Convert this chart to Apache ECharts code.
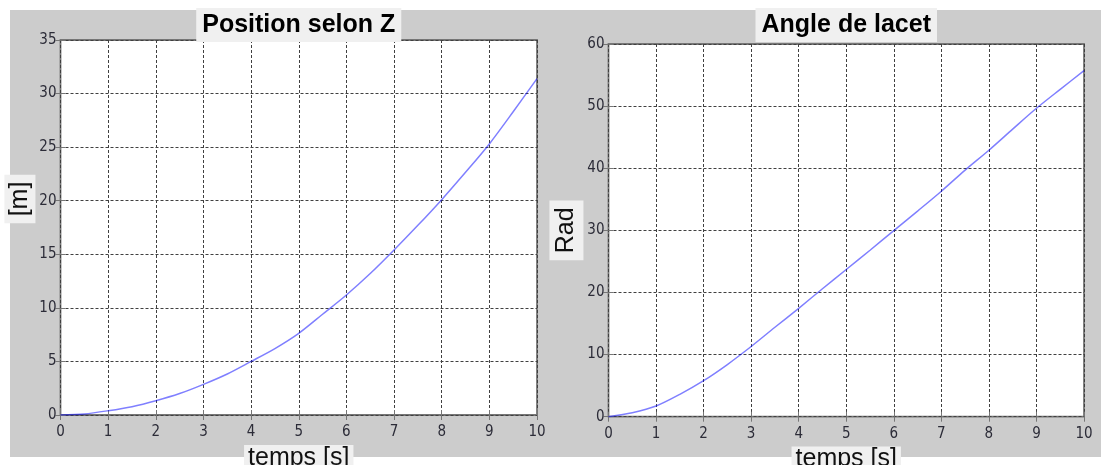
<!DOCTYPE html>
<html>
<head>
<meta charset="utf-8">
<script src="https://cdn.jsdelivr.net/npm/echarts@6/dist/echarts.min.js"></script>
<style>
  html, body { margin: 0; padding: 0; background: #ffffff; }
  #bg { position: absolute; left: 10px; top: 10px; width: 1091px; height: 447px; background: #cccccc; }
  #chart { position: absolute; left: 0; top: 0; width: 1101px; height: 465px; }
</style>
</head>
<body>
<div id="bg"></div>
<div id="chart"></div>
<script>
// ---- data ----
const timeTicks = [0, 0.5, 1, 1.5, 2, 2.5, 3, 3.5, 4, 4.5, 5, 5.5, 6, 6.5, 7, 7.5, 8, 8.5, 9, 9.5, 10];
const positionZ = [0, 0.1, 0.4, 0.78, 1.33, 2.0, 2.86, 3.83, 5.0, 6.2, 7.62, 9.4, 11.2, 13.2, 15.4, 17.7, 20.1, 22.65, 25.3, 28.3, 31.4];
const yawAngle = [0, 0.65, 1.72, 3.6, 5.8, 8.4, 11.3, 14.4, 17.45, 20.6, 23.7, 26.8, 29.95, 33.1, 36.3, 39.7, 42.9, 46.3, 49.65, 52.7, 55.7];
const titles = ['Position selon Z', 'Angle de lacet'];
const xName = 'temps [s]';
const yNames = ['[m]', 'Rad'];

// ---- styling ----
const frameColor = '#767676';
const labelStyle = { color: '#2c2c38', fontSize: 15, fontFamily: '"Liberation Sans Narrow", "DejaVu Sans Condensed", "Liberation Sans", sans-serif' };
const nameStyle = { color: '#111', fontSize: 25, fontFamily: '"Liberation Sans", Arial, sans-serif', backgroundColor: '#f0f0f0' };
const gridLine = { show: true, lineStyle: { color: '#404040', width: 1, type: [3, 2] } };
const tickIn = { show: true, inside: true, length: 5, lineStyle: { color: frameColor, width: 1 } };

const grids = [
  { left: 60.5, top: 40, width: 476.5, height: 375 },
  { left: 608.5, top: 44, width: 475.5, height: 372.7 }
];
const yMax = [35, 60], yInt = [5, 10];

const option = {
  animation: false,
  title: titles.map((t, i) => ({
    text: t,
    left: grids[i].left + grids[i].width / 2 - 6,
    top: 8,
    textAlign: 'center',
    backgroundColor: '#f0f0f0',
    padding: [2, 6],
    textStyle: { fontSize: 25, fontWeight: 'bold', color: '#000', lineHeight: 30, fontFamily: '"Liberation Sans", Arial, sans-serif' }
  })),
  grid: grids.map(g => Object.assign({ show: true, backgroundColor: '#ffffff', borderColor: frameColor, borderWidth: 1.8, outerBoundsMode: 'none', containLabel: false }, g)),
  xAxis: [],
  yAxis: [],
  series: []
};

[0, 1].forEach(i => {
  option.xAxis.push({
    gridIndex: i, type: 'value', min: 0, max: 10, interval: 1, position: 'bottom',
    axisLine: { show: false }, axisTick: tickIn,
    axisLabel: Object.assign({ margin: 10 }, labelStyle),
    splitLine: gridLine,
    name: xName, nameLocation: 'middle', nameGap: 25,
    nameTextStyle: Object.assign({}, nameStyle, { lineHeight: 26, padding: [0, 4] })
  });
  option.xAxis.push({
    gridIndex: i, type: 'value', min: 0, max: 10, interval: 1, position: 'top',
    axisLine: { show: false }, axisTick: tickIn, axisLabel: { show: false }, splitLine: { show: false }
  });
  const yNameCfg = i === 0
    ? { name: '{b|' + yNames[0] + '}', nameGap: 19,
        nameTextStyle: { padding: [0, 0, 0, 57], rich: { b: Object.assign({}, nameStyle, { lineHeight: 28, padding: [3, 7] }) } } }
    : { name: yNames[1], nameGap: 22,
        nameTextStyle: Object.assign({}, nameStyle, { lineHeight: 28, padding: [3, 7] }) };
  option.yAxis.push(Object.assign({
    gridIndex: i, type: 'value', min: 0, max: yMax[i], interval: yInt[i], position: 'left',
    axisLine: { show: false }, axisTick: tickIn,
    axisLabel: Object.assign({ margin: 4 }, labelStyle),
    splitLine: gridLine,
    nameLocation: 'middle'
  }, yNameCfg));
  option.yAxis.push({
    gridIndex: i, type: 'value', min: 0, max: yMax[i], interval: yInt[i], position: 'right',
    axisLine: { show: false }, axisTick: tickIn, axisLabel: { show: false }, splitLine: { show: false }
  });
});

const seriesVals = [positionZ, yawAngle];
[0, 1].forEach(i => {
  option.series.push({
    type: 'line',
    xAxisIndex: i * 2, yAxisIndex: i * 2,
    data: timeTicks.map((t, k) => [t, seriesVals[i][k]]),
    showSymbol: false, symbol: 'none', smooth: 0.3,
    lineStyle: { color: 'rgba(0,0,255,0.5)', width: 1.5 },
    z: 5
  });
});

const chart = echarts.init(document.getElementById('chart'), null, { renderer: 'canvas' });
chart.setOption(option);
</script>
</body>
</html>
